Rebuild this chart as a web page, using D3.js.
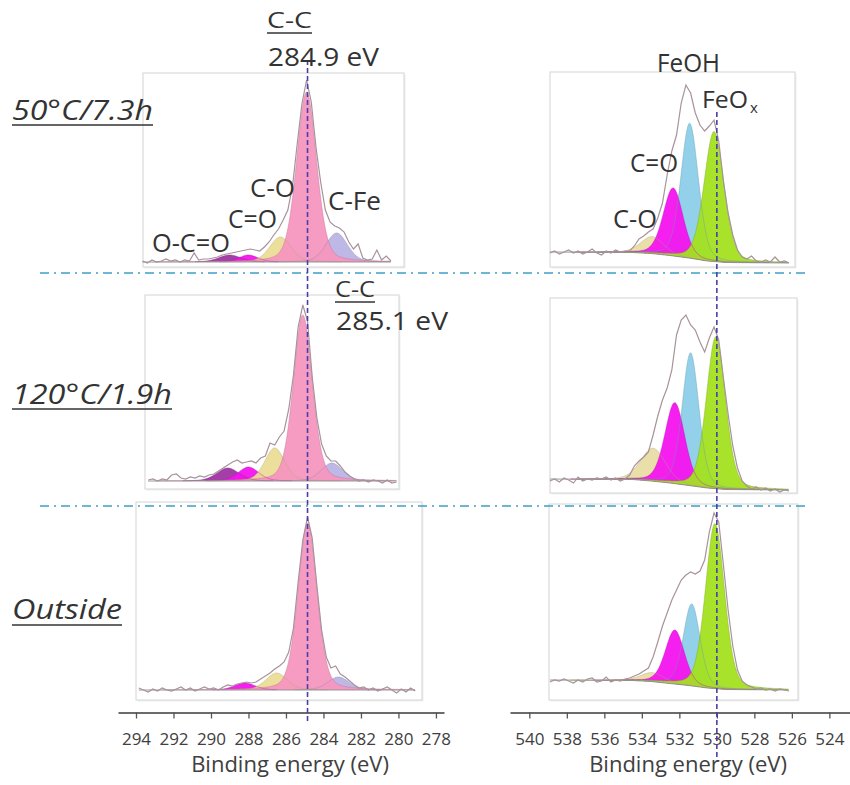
<!DOCTYPE html>
<html><head><meta charset="utf-8">
<script src="https://cdn.jsdelivr.net/npm/d3@7"></script>
<style>body{margin:0;background:#fff} svg{display:block}</style>
</head><body>
<svg id="chart" width="850" height="785"></svg>
<script>
// ================= DATA =================
const cTicks = [294, 292, 290, 288, 286, 284, 282, 280, 278];
const oTicks = [540, 538, 536, 534, 532, 530, 528, 526, 524];
const axisTitle = "Binding energy (eV)";
const rowLabels = ["50°C/7.3h", "120°C/1.9h", "Outside"];

// C 1s components (draw order)
const cComponents = ["O-C=O", "C=O", "C-O", "C-Fe", "C-C"];
const cColors = ["#9f35a3", "#f414ee", "#ebdd96", "#b9b4e4", "#f596bf"];
const cCenters50 = [289.0, 288.0, 286.3, 283.3, 284.9];
const cHeights50 = [7, 7, 25, 29, 170];
const cWidths50 = [1.4, 1.2, 1.35, 1.35, 1.25];
const cCenters120 = [289.1, 288.0, 286.6, 283.55, 285.1];
const cHeights120 = [13, 14, 33, 18, 166];
const cWidths120 = [1.4, 1.3, 1.25, 1.35, 1.2];
const cCentersOut = [289.1, 288.2, 286.5, 283.2, 284.85];
const cHeightsOut = [0, 7, 17, 13, 167];
const cWidthsOut = [1.4, 1.3, 1.35, 1.35, 1.2];

// O 1s components (draw order)
const oComponents = ["C-O", "FeOH", "C=O", "FeOx"];
const oColors = ["#e9dca4", "#8ccfe8", "#f414ee", "#a3e020"];
const oCenters50 = [533.45, 531.45, 532.33, 530.15];
const oHeights50 = [17, 135, 68, 130];
const oWidths50 = [1.45, 1.1, 1.25, 1.25];
const oCenters120 = [533.4, 531.4, 532.24, 530.05];
const oHeights120 = [33, 133, 81, 152];
const oWidths120 = [1.55, 1.05, 1.25, 1.2];
const oCentersOut = [533.45, 531.34, 532.24, 530.1];
const oHeightsOut = [9, 82, 54, 165];
const oWidthsOut = [1.45, 1.05, 1.2, 1.2];

// Shirley-type background knots
const cBaseE = [295, 278];
const cBaseV = [0, 0];
const oBaseE = [539, 534.5, 533.5, 532.5, 531.5, 530.5, 529.5, 526];
const oBase50 = [11, 10.5, 9.5, 7.5, 5, 2, 0.5, 0];
const oBase120 = [11, 10.5, 9, 7, 4.5, 2, 0.5, 0];
const oBaseOut = [10, 9.5, 8.5, 6.5, 4.5, 2, 0.5, 0];

// raw spectra (0.25 eV steps, descending binding energy)
const rawStep = 0.25;
const rawStartC50 = 293.65, rawStartC120 = 293.35, rawStartCOut = 293.85, rawStartO = 538.9;
const rawC50 = [1,-1,2,0,1,3,1,2,0,2,1,9,2,3,3,4,5,7,8,9,10,11,12,13,12,11,15,20,27,33,42,52,76,118,158,182,160,115,80,52,40,36,34,30,20,13,18,4,2,3,12,2,6,1];
const rawC120 = [1,2,0,2,1,6,7,3,2,4,3,5,4,6,7,10,13,16,19,21,18,19,20,18,23,25,38,36,44,50,72,106,154,176,160,104,63,37,25,20,20,15,9,5,2,0,1,-1,1,0,-2,1,-2,-1];
const rawCOut = [2,0,-2,1,-1,2,0,-1,1,3,0,2,-1,1,3,1,2,0,3,5,4,6,7,8,7,8,11,14,17,21,24,28,38,62,108,150,173,152,104,60,33,22,24,16,13,9,5,2,3,0,2,-1,1,3,0,-3,1,-2,2,-1];
const rawO50 = [10,12,9,11,13,10,12,9,11,14,10,8,12,10,13,11,12,12,17,24,27,31,34,45,60,88,112,128,160,178,170,150,138,132,137,143,122,82,50,28,13,6,4,7,2,1,3,1,6,1,2,0];
const rawO120 = [9,11,8,12,10,7,13,9,11,10,12,11,13,10,12,9,11,15,24,29,33,38,55,74,90,102,120,155,170,175,165,160,148,138,152,163,150,112,76,44,22,9,4,1,3,0,2,-1,1,-2,0,-1];
const rawOOut = [8,10,9,11,9,7,10,8,11,12,8,9,13,8,10,9,11,12,14,16,19,22,33,48,64,77,90,100,110,115,118,116,119,130,158,177,168,125,80,44,20,9,5,3,1,2,0,1,-1,1,0,-1];

// reference energies of the dashed markers
const markerC = 284.85, markerO = 530.0;

// ================= LAYOUT =================
const FONT = "'Open Sans', 'DejaVu Sans', sans-serif";
const TXT = "#333";
const MIX = 0.25;
const svg = d3.select("#chart");

const xC = d3.scaleLinear().domain([294.96, 277.57]).range([118, 444]);
const xO = d3.scaleLinear().domain([541.03, 522.9]).range([510, 850]);
const axisY = 712.5;

const panels = [
  {x: xC, frame: [143, 73, 404, 267], zero: 262, raw: rawC50, start: rawStartC50, c: cCenters50, h: cHeights50, w: cWidths50, col: cColors, bE: cBaseE, bV: cBaseV},
  {x: xC, frame: [145, 295, 399, 489], zero: 481, raw: rawC120, start: rawStartC120, c: cCenters120, h: cHeights120, w: cWidths120, col: cColors, bE: cBaseE, bV: cBaseV},
  {x: xC, frame: [136, 502, 422, 700], zero: 690, raw: rawCOut, start: rawStartCOut, c: cCentersOut, h: cHeightsOut, w: cWidthsOut, col: cColors, bE: cBaseE, bV: cBaseV},
  {x: xO, frame: [550, 72, 795, 267], zero: 263, raw: rawO50, start: rawStartO, c: oCenters50, h: oHeights50, w: oWidths50, col: oColors, bE: oBaseE, bV: oBase50},
  {x: xO, frame: [550, 298, 797, 493], zero: 490, raw: rawO120, start: rawStartO, c: oCenters120, h: oHeights120, w: oWidths120, col: oColors, bE: oBaseE, bV: oBase120},
  {x: xO, frame: [549, 504, 798, 700], zero: 690, raw: rawOOut, start: rawStartO, c: oCentersOut, h: oHeightsOut, w: oWidthsOut, col: oColors, bE: oBaseE, bV: oBaseOut}
];

function gl(E, c, h, w) {
  const u = 4 * (E - c) * (E - c) / (w * w);
  return h * ((1 - MIX) * Math.exp(-Math.LN2 * u) + MIX / (1 + u));
}

// frames
panels.forEach(p => {
  const [x0, y0, x1, y1] = p.frame;
  svg.append("rect").attr("x", x0 + 1.5).attr("y", y0 + 1.5).attr("width", x1 - x0).attr("height", y1 - y0)
    .attr("fill", "#f0f0f0");
  svg.append("rect").attr("x", x0).attr("y", y0).attr("width", x1 - x0).attr("height", y1 - y0)
    .attr("fill", "#fff").attr("stroke", "#d4d4d4").attr("stroke-width", 1);
});

// spectra
panels.forEach(p => {
  const y = d3.scaleLinear().domain([0, 200]).range([p.zero, p.zero - 200]);
  const base = d3.scaleLinear().domain(p.bE).range(p.bV).clamp(true);
  const rawPts = p.raw.map((v, i) => [p.start - i * rawStep, v]);
  const eHi = rawPts[0][0], eLo = rawPts[rawPts.length - 1][0];
  const grid = d3.range(eHi, eLo - 1e-9, -0.04);
  const g = svg.append("g");

  // component fills
  p.c.forEach((c, k) => {
    if (p.h[k] <= 0) return;
    const pts = grid.map(E => [E, base(E), base(E) + gl(E, c, p.h[k], p.w[k])])
      .filter(d => d[2] - d[1] > 0.25);
    g.append("path").datum(pts)
      .attr("d", d3.area().x(d => p.x(d[0])).y0(d => y(d[1])).y1(d => y(d[2])))
      .attr("fill", p.col[k]).attr("fill-opacity", 0.95);
  });
  // component outlines
  p.c.forEach((c, k) => {
    if (p.h[k] <= 0) return;
    const pts = grid.map(E => [E, base(E) + gl(E, c, p.h[k], p.w[k])]).filter((d) => d[1] - base(d[0]) > 0.25);
    g.append("path").datum(pts)
      .attr("d", d3.line().x(d => p.x(d[0])).y(d => y(d[1])))
      .attr("fill", "none").attr("stroke", d3.color(p.col[k]).darker(0.8)).attr("stroke-width", 0.8).attr("stroke-opacity", 0.5);
  });
  // background
  g.append("path").datum(grid.map(E => [E, base(E)]))
    .attr("d", d3.line().x(d => p.x(d[0])).y(d => y(d[1])))
    .attr("fill", "none").attr("stroke", "#8d8d8d").attr("stroke-width", 1);
  // raw
  g.append("path").datum(rawPts)
    .attr("d", d3.line().x(d => p.x(d[0])).y(d => y(d[1])))
    .attr("fill", "none").attr("stroke", "#a8929b").attr("stroke-width", 1.2);
});

// separators
[273, 506].forEach(yy => {
  svg.append("line").attr("x1", 40).attr("x2", 808).attr("y1", yy).attr("y2", yy)
    .attr("stroke", "#3e9fc8").attr("stroke-width", 1.5).attr("stroke-dasharray", "9,5,2,5");
});

// axes
function drawAxis(scale, ticks, cx) {
  const ax = svg.append("g").attr("transform", `translate(0,${axisY})`)
    .call(d3.axisBottom(scale).tickValues(ticks).tickSize(6).tickSizeOuter(0).tickPadding(14).tickFormat(d3.format("d")));
  ax.select(".domain").attr("stroke", "#3a3a3a").attr("stroke-width", 1.6);
  ax.selectAll(".tick line").attr("stroke", "#555").attr("stroke-width", 1.3);
  ax.selectAll(".tick text").attr("fill", "#404040").style("font-family", FONT).style("font-size", "17px");
  svg.append("text").attr("x", cx).attr("y", 772).attr("text-anchor", "middle")
    .attr("fill", "#404040").style("font-family", FONT).style("font-size", "22px").text(axisTitle);
}
drawAxis(xC, cTicks, 290);
drawAxis(xO, oTicks, 688);

// dashed markers
svg.append("line").attr("x1", xC(markerC)).attr("x2", xC(markerC)).attr("y1", 60).attr("y2", 722)
  .attr("stroke", "#4b3fa6").attr("stroke-width", 1.6).attr("stroke-dasharray", "5,3");
svg.append("line").attr("x1", xO(markerO)).attr("x2", xO(markerO)).attr("y1", 112).attr("y2", 757)
  .attr("stroke", "#4b3fa6").attr("stroke-width", 1.6).attr("stroke-dasharray", "5,3");

// texts
function label(t, x, y, size, len, opts = {}) {
  const el = svg.append("text").attr("x", x).attr("y", y).attr("fill", TXT)
    .style("font-family", FONT).style("font-size", size + "px").text(t);
  if (len) el.attr("textLength", len).attr("lengthAdjust", "spacingAndGlyphs");
  if (opts.italic) el.style("font-style", "italic");
  return el;
}
function underline(x1, x2, y) {
  svg.append("line").attr("x1", x1).attr("x2", x2).attr("y1", y).attr("y2", y)
    .attr("stroke", TXT).attr("stroke-width", 1.6);
}
// row labels
label(rowLabels[0], 12, 120, 27, 141, {italic: true}); underline(12, 153, 125);
label(rowLabels[1], 12, 404, 27, 160, {italic: true}); underline(12, 172, 409);
label(rowLabels[2], 12, 619, 27, 110, {italic: true}); underline(12, 122, 625);

// peak annotations C 1s
label(cComponents[4], 267, 28, 22, 45); underline(267, 312, 33);
label("284.9 eV", 268, 66, 25, 111);
label(cComponents[4], 335, 297, 22, 40); underline(335, 375, 302);
label("285.1 eV", 336, 330, 25, 112);
label(cComponents[0], 152, 252, 25, 78);
label(cComponents[1], 228, 228, 25, 49);
label(cComponents[2], 250, 197, 25, 45);
label(cComponents[3], 328, 210, 25, 53);

// peak annotations O 1s
label(oComponents[1], 657, 72, 25, 63);
label("FeO", 702, 108, 24, 46);
svg.append("text").attr("x", 750).attr("y", 113).attr("fill", TXT)
  .style("font-family", FONT).style("font-size", "15px").text("x");
label(oComponents[2], 630, 172, 25, 48);
label(oComponents[0], 613, 228, 25, 44);
</script>
</body></html>
